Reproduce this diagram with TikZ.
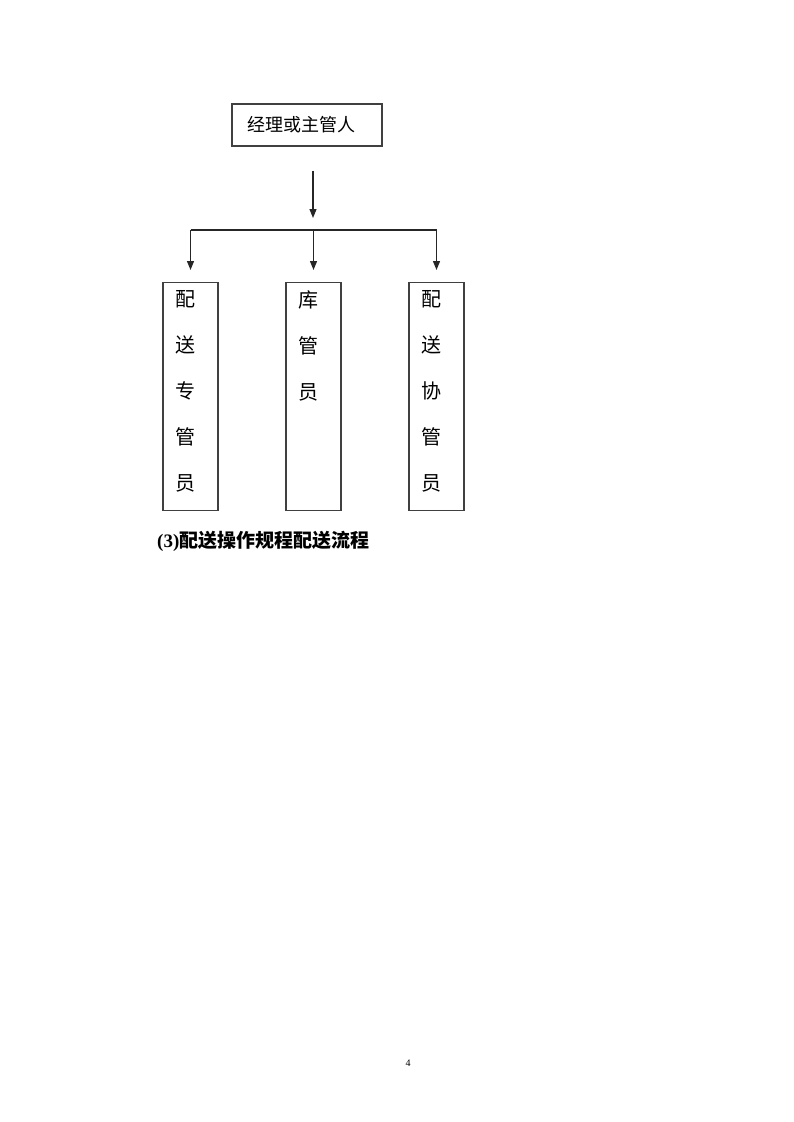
\documentclass[tikz,border=0pt]{standalone}
\usepackage{fontspec}
\setmainfont{Liberation Serif}
\newfontfamily\cjk{Noto Sans CJK SC}
\usepackage{tikz}
\usetikzlibrary{positioning}
\usetikzlibrary{arrows.meta}

\newcommand{\vlabel}[1]{\parbox[t][220pt][t]{55pt}{\vspace*{4pt}\leftskip=12pt\cjk\fontsize{20pt}{46pt}\selectfont #1}}

\begin{document}
\begin{tikzpicture}
		[x=1pt, y=-1pt,
		 chief/.style={draw=black!75, line width=1.2pt, minimum width=150pt, minimum height=42pt,
		   text width=120pt, inner xsep=15pt, align=left, font=\cjk\fontsize{18pt}{20pt}\selectfont},
		 staff/.style={draw=black!75, line width=1.2pt, minimum width=55pt, minimum height=228pt,
		   inner sep=0pt, anchor=north},
		 link/.style={line width=1.2pt, black!85},
		 arrow/.style={link, -{Triangle[width=7pt, length=9pt]}}]
		\useasboundingbox (0,0) rectangle (793,1122);

		\node[chief] (boss) at (307,125) {经理或主管人};
		\node[staff] (s1) at (190.5,282) {\vlabel{配\\送\\专\\管\\员}};
		\node[staff] (s2) at (313.5,282) {\vlabel{库\\管\\员}};
		\node[staff] (s3) at (436.5,282) {\vlabel{配\\送\\协\\管\\员}};
		\coordinate (bar) at (313,230);

		\draw[arrow, shorten <=24pt, shorten >=12pt] (bar |- boss.south) -- (bar);
		\draw[link] (s1.north |- bar) -- (s3.north |- bar);
		\draw[arrow, shorten >=12pt] (s1.north |- bar) -- (s1.north);
		\draw[arrow, shorten >=12pt] (s2.north |- bar) -- (s2.north);
		\draw[arrow, shorten >=12pt] (s3.north |- bar) -- (s3.north);

		\node[anchor=west, inner sep=0pt, font=\bfseries\fontsize{19pt}{22pt}\selectfont] (title)
		  at (157,541) {(3){\cjk 配送操作规程配送流程}};
		\node[font=\fontsize{10pt}{12pt}\selectfont] (page) at (408,1063) {4};
	\end{tikzpicture}
\end{document}
